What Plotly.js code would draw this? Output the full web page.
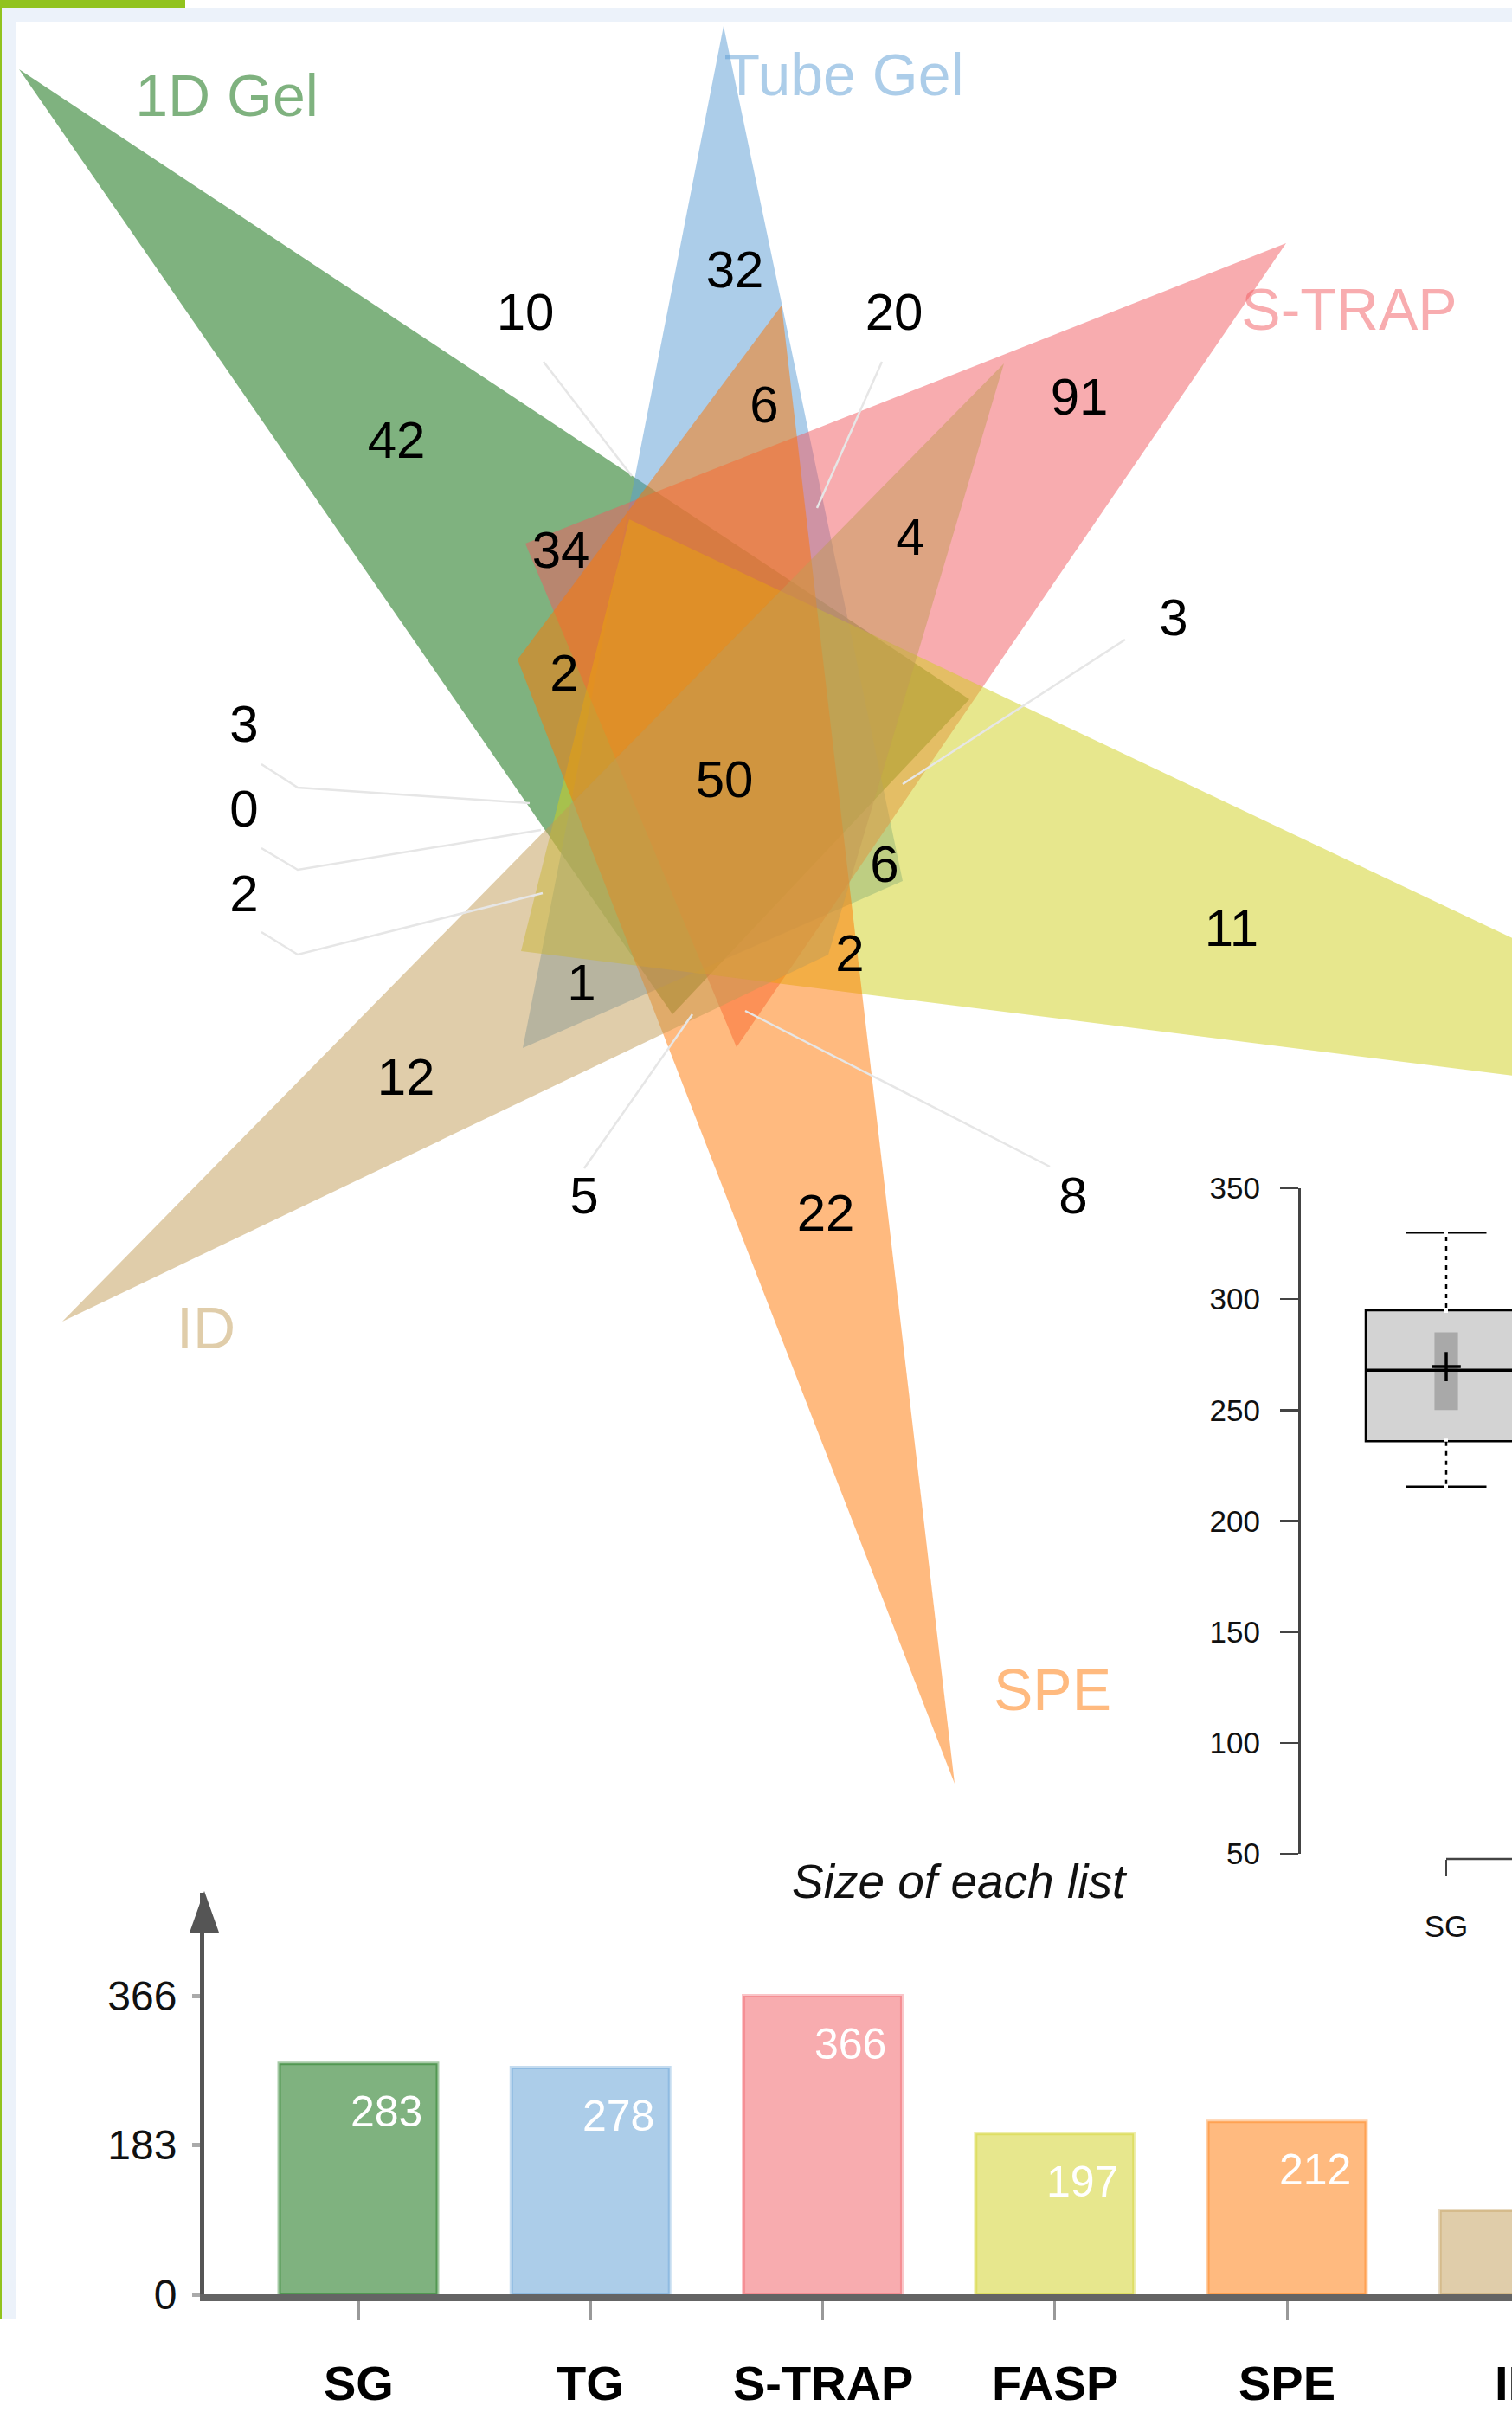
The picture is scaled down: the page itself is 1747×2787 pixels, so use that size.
<!DOCTYPE html>
<html><head><meta charset="utf-8">
<script src="https://cdn.plot.ly/plotly-3.0.1.min.js"></script>
<style>html,body{margin:0;padding:0;background:#fff}#chart{width:1747px;height:2787px}</style>
</head><body><div id="chart"></div>
<script>
// ================= DATA =================
const setNames   = ['1D Gel','Tube Gel','S-TRAP','FASP','SPE','ID'];
const setColors  = ['#006600','#5a9bd4','#f15a60','#cfcf1b','#ff7500','#c19b55'];
// Venn region counts (order matches regionPos below)
const regionCounts = [42,10,32,20,6,91,34,4,3,2,50,3,0,2,6,11,2,1,12,5,22,8];

// Bar chart "Size of each list"
const barCategories = ['SG','TG','S-TRAP','FASP','SPE','ID'];
const barValues     = [283,278,366,197,212,103];
const barTickVals   = [0,183,366];

// Box plot
const boxCategory = ['SG'];
const boxQ1 = [236], boxMedian = [268], boxQ3 = [295];
const boxLower = [215.5], boxUpper = [330], boxMean = [269.6];
const notchLow = [250], notchHigh = [285];
const boxTickVals = [50,100,150,200,250,300,350];

// ================= GEOMETRY (page pixels) =================
const triangles = [
  [[22,80],[1120,808],[777,1172]],     // 1D Gel
  [[836,30],[1043,1018],[604,1211]],   // Tube Gel
  [[1486,281],[851,1210],[607,628]],   // S-TRAP
  [[2203,1300],[602,1099],[727,600]],  // FASP
  [[1103,2061],[598,762],[903,353]],   // SPE
  [[72,1527],[1160,420],[957,1103]]    // ID
];
const regionPos = [[458,514],[607,366],[849,317],[1033,366],[883,473],[1247,464],[648,641],[1052,626],
  [1356,719],[652,783],[837,906],[282,842],[282,940],[282,1038],[1022,1004],[1423,1078],[982,1107],
  [672,1141],[469,1250],[675,1387],[954,1407],[1240,1387]];
const leaders = [
  [[628,418],[730,550]],
  [[1019,418],[944,587]],
  [[1300,739],[1043,906]],
  [[302,883],[344,910],[612,928]],
  [[302,980],[344,1005],[625,959]],
  [[302,1077],[344,1103],[627,1032]],
  [[675,1350],[800,1172]],
  [[1213,1348],[861,1168]]
];
const setLabelPos = [[262,117],[975,93],[1559,364],null,[1216,1959],[238,1541]];

const W = 1747, H = 2787;
function rgba(hex,a){const n=parseInt(hex.slice(1),16);return `rgba(${n>>16},${(n>>8)&255},${n&255},${a})`;}
const FONT = 'Liberation Sans, Arial, Helvetica, sans-serif';

const traces = [];
// Venn triangles
triangles.forEach((t,i)=>{
  traces.push({type:'scatter',mode:'lines',xaxis:'x',yaxis:'y',
    x:[t[0][0],t[1][0],t[2][0],t[0][0]], y:[t[0][1],t[1][1],t[2][1],t[0][1]],
    fill:'toself',fillcolor:rgba(setColors[i],0.5),line:{width:0},hoverinfo:'skip',showlegend:false});
});
// leader lines
leaders.forEach(l=>{
  traces.push({type:'scatter',mode:'lines',xaxis:'x',yaxis:'y',x:l.map(p=>p[0]),y:l.map(p=>p[1]),
    line:{color:'#e6e6e6',width:2.5},hoverinfo:'skip',showlegend:false});
});
// region counts
traces.push({type:'scatter',mode:'text',xaxis:'x',yaxis:'y',cliponaxis:false,
  x:regionPos.map(p=>p[0]),y:regionPos.map(p=>p[1]),text:regionCounts.map(String),
  textposition:'middle center',textfont:{family:FONT,size:60,color:'#000'},hoverinfo:'skip',showlegend:false});
// set labels
const sl = setNames.map((n,i)=>({n,i,p:setLabelPos[i]})).filter(d=>d.p);
traces.push({type:'scatter',mode:'text',xaxis:'x',yaxis:'y',cliponaxis:false,
  x:sl.map(d=>d.p[0]),y:sl.map(d=>d.p[1]),text:sl.map(d=>d.n),textposition:'middle center',
  textfont:{family:FONT,size:68,color:sl.map(d=>rgba(setColors[d.i],0.5))},hoverinfo:'skip',showlegend:false});

// bars
traces.push({type:'bar',xaxis:'x2',yaxis:'y2',x:barCategories,y:barValues,width:0.682,
  marker:{color:barCategories.map((c,i)=>rgba(setColors[i],0.5)),
          line:{color:barCategories.map((c,i)=>rgba(setColors[i],0.35)),width:4}},
  hoverinfo:'skip',showlegend:false});

// box plot
traces.push({type:'box',xaxis:'x3',yaxis:'y3',x:[0],q1:boxQ1,median:boxMedian,q3:boxQ3,
  lowerfence:boxLower,upperfence:boxUpper,width:1,whiskerwidth:0.5,boxpoints:false,
  fillcolor:'#d3d3d3',line:{color:'#000',width:2.5},hoverinfo:'skip',showlegend:false});
// dotted whiskers (white gaps over the solid whisker)
[[boxQ3[0],boxUpper[0]],[boxLower[0],boxQ1[0]]].forEach(seg=>{
  traces.push({type:'scatter',mode:'lines',xaxis:'x3',yaxis:'y3',x:[0,0],y:[seg[0]-1.2,seg[1]+1.2],
    line:{color:'#fff',width:4,dash:'6px,5px'},hoverinfo:'skip',showlegend:false});
});
// notch rectangle
traces.push({type:'scatter',mode:'lines',xaxis:'x3',yaxis:'y3',
  x:[-0.073,0.073,0.073,-0.073,-0.073],y:[notchLow[0],notchLow[0],notchHigh[0],notchHigh[0],notchLow[0]],
  fill:'toself',fillcolor:'#a9a9a9',line:{width:0},hoverinfo:'skip',showlegend:false});
// median line
traces.push({type:'scatter',mode:'lines',xaxis:'x3',yaxis:'y3',x:[-0.5,0.5],y:[boxMedian[0],boxMedian[0]],
  line:{color:'#000',width:3.5},hoverinfo:'skip',showlegend:false});
// mean cross
traces.push({type:'scatter',mode:'markers',xaxis:'x3',yaxis:'y3',x:[0],y:boxMean,
  marker:{symbol:'cross-thin',size:24,line:{color:'#000',width:3.5}},hoverinfo:'skip',showlegend:false});

// ================= LAYOUT =================
const barZeroPx = 2651, barTopPx = 2187, barPxPerUnit = 345/366;
const barCenter0 = 414, barSpacing = 268.25, barAxisPx = 236;
const boxAxisPx = 1501, boxTopPx = 1373, boxBotPx = 2142, boxCenterPx = 1671, boxWidthPx = 186, boxXAxisPx = 2148;

const annotations = [];
// bar value labels (only those whose position lies on the page)
barValues.forEach((v,i)=>{
  const px = barCenter0+i*barSpacing+32;
  if (px + 30 > W) return;
  annotations.push({xref:'paper',yref:'y2',x:px/W,y:v,yshift:-56,text:String(v),
    showarrow:false,font:{family:FONT,size:50,color:'#fff'},xanchor:'center',yanchor:'middle'});
});
// bar category labels
barCategories.forEach((c,i)=>annotations.push({xref:'paper',yref:'paper',x:(barCenter0+i*barSpacing)/W,y:0,text:'<b>'+c+'</b>',
  showarrow:false,font:{family:FONT,size:56,color:'#000'},xanchor:'center',yanchor:'bottom'}));
// bar title
annotations.push({xref:'paper',yref:'paper',x:1109/W,y:(H-2174)/H,text:'<i>Size of each list</i>',showarrow:false,
  font:{family:FONT,size:55,color:'#111'},xanchor:'center',yanchor:'middle'});

const shapes = [
  {type:'rect',xref:'x',yref:'y',x0:0,x1:214,y0:0,y1:9,fillcolor:'#91c31e',line:{width:0},layer:'above'},
  {type:'rect',xref:'x',yref:'y',x0:2,x1:W,y0:9,y1:25,fillcolor:'#ecf2fa',line:{width:0},layer:'above'},
  {type:'rect',xref:'x',yref:'y',x0:2,x1:18,y0:9,y1:2680,fillcolor:'#ecf2fa',line:{width:0},layer:'above'},
  {type:'rect',xref:'x',yref:'y',x0:0,x1:2,y0:0,y1:2680,fillcolor:'#91c31e',line:{width:0},layer:'above'},
  // arrowhead on bar y axis
  {type:'path',xref:'x',yref:'y',path:`M ${barAxisPx} ${barTopPx-2} L ${barAxisPx-17} ${barTopPx+46} L ${barAxisPx+17} ${barTopPx+46} Z`,
    fillcolor:'#555',line:{width:0},layer:'above'},
  // box plot x axis line
  {type:'line',xref:'x',yref:'y',x0:boxCenterPx,x1:W,y0:boxXAxisPx,y1:boxXAxisPx,line:{color:'#444',width:2.5},layer:'above'}
];

const layout = {
  width:W,height:H,autosize:false,margin:{l:0,r:0,t:0,b:0},
  paper_bgcolor:'#fff',plot_bgcolor:'rgba(0,0,0,0)',showlegend:false,
  xaxis:{domain:[0,1],range:[0,W],visible:false,fixedrange:true},
  yaxis:{domain:[0,1],range:[H,0],visible:false,fixedrange:true},
  xaxis2:{domain:[barAxisPx/W,1],anchor:'y2',type:'category',
    range:[(barAxisPx-barCenter0)/barSpacing,(W-barCenter0)/barSpacing],
    showline:true,linecolor:'rgba(40,40,40,0.72)',linewidth:8,ticks:'outside',ticklen:22,tickwidth:3,tickcolor:'#999',
    showticklabels:false,showgrid:false,zeroline:false},
  yaxis2:{domain:[(H-barZeroPx)/H,(H-barTopPx)/H],anchor:'x2',range:[0,(barZeroPx-barTopPx)/barPxPerUnit],
    showline:true,linecolor:'#555',linewidth:5,ticks:'outside',ticklen:9,tickwidth:5,tickcolor:'#aaa',
    tickvals:barTickVals,ticktext:barTickVals.map(String),tickfont:{family:FONT,size:48,color:'#111'},
    showgrid:false,zeroline:false,ticklabelstandoff:8},
  xaxis3:{domain:[boxAxisPx/W,1],anchor:'free',position:(H-boxXAxisPx)/H,
    range:[(boxAxisPx-boxCenterPx)/boxWidthPx,(W-boxCenterPx)/boxWidthPx],
    showline:false,ticks:'outside',ticklen:19,tickwidth:2.5,tickcolor:'#444',tickvals:[0],ticktext:boxCategory,
    tickfont:{family:FONT,size:35,color:'#111'},showgrid:false,zeroline:false,ticklabelstandoff:28},
  yaxis3:{domain:[(H-boxBotPx)/H,(H-boxTopPx)/H],anchor:'free',position:boxAxisPx/W,range:[50,350],
    showline:true,linecolor:'#444',linewidth:2.5,ticks:'outside',ticklen:21,tickwidth:2.5,tickcolor:'#444',
    tickvals:boxTickVals,tickfont:{family:FONT,size:35,color:'#111'},showgrid:false,zeroline:false,ticklabelstandoff:16},
  annotations,shapes
};
Plotly.newPlot('chart',traces,layout,{staticPlot:true,displayModeBar:false});
</script></body></html>
